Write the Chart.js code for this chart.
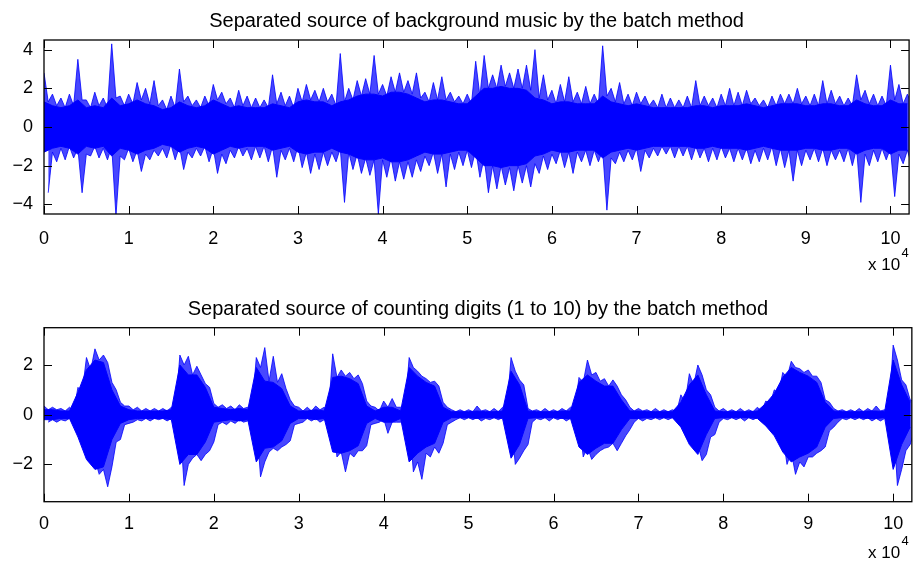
<!DOCTYPE html>
<html>
<head>
<meta charset="utf-8">
<script src="https://cdn.jsdelivr.net/npm/chart.js@4.4.0/dist/chart.umd.min.js"></script>
<style>
  body { margin: 0; background: #fff; }
  canvas { position: absolute; left: 0; }
  #musicChart { top: 0; }
  #speechChart { top: 280px; }
</style>
</head>
<body>
<canvas id="musicChart" width="915" height="280"></canvas>
<canvas id="speechChart" width="915" height="281"></canvas>
<script>
// envelope values sampled every 0.1 (x 10^4 samples), from 0 to 10.2
const binStep = 0.1;
const xMax = 10.22;
const xTicks = [0, 1, 2, 3, 4, 5, 6, 7, 8, 9, 10];
const musicYTicks = [-4, -2, 0, 2, 4];
const speechYTicks = [-2, 0, 2];

// background music: positive peaks, negative peaks, dense core amplitude
const musicHi = [
  2.8, 1.7, 1.5, 1.7, 3.5, 1.4, 1.8, 1.5, 4.3, 1.6,
  1.7, 2.3, 2.0, 2.4, 1.4, 1.6, 3.0, 1.6, 1.4, 1.6,
  2.2, 1.8, 1.5, 1.9, 1.6, 1.5, 1.4, 2.7, 1.8, 1.6,
  2.0, 2.2, 1.9, 2.0, 1.7, 3.8, 2.0, 2.4, 2.5, 3.7,
  2.2, 2.6, 2.8, 2.4, 2.8, 1.8, 2.3, 2.6, 1.8, 1.6,
  1.7, 3.4, 3.7, 2.7, 3.2, 2.8, 3.0, 3.2, 4.0, 2.7,
  1.9, 2.2, 2.6, 1.8, 2.1, 1.7, 4.2, 2.0, 2.3, 1.7,
  1.8, 1.6, 1.4, 1.7, 1.5, 1.4, 1.6, 2.4, 1.6, 1.5,
  1.7, 2.0, 1.8, 1.9, 1.5, 1.4, 1.6, 1.7, 1.7, 2.0,
  1.6, 1.7, 2.4, 1.9, 1.6, 1.5, 2.7, 1.9, 1.7, 1.6,
  3.2, 2.2, 1.7
];
const musicLo = [
  -3.4, -1.8, -1.7, -1.6, -3.4, -1.5, -1.6, -1.7, -4.6, -1.7,
  -1.8, -2.3, -1.7, -1.5, -1.6, -1.7, -2.2, -1.6, -1.5, -1.8,
  -2.4, -1.9, -1.6, -1.5, -1.7, -1.6, -1.8, -2.6, -1.7, -1.8,
  -2.1, -2.4, -2.2, -2.0, -1.8, -3.9, -2.2, -2.4, -2.5, -4.5,
  -2.6, -2.8, -2.7, -2.6, -2.3, -2.0, -2.4, -3.1, -2.2, -2.0,
  -2.1, -2.6, -3.4, -3.2, -3.0, -3.3, -2.9, -3.1, -2.4, -2.2,
  -1.9, -2.1, -2.4, -1.8, -2.0, -1.8, -4.3, -1.9, -1.8, -1.7,
  -2.3, -1.6, -1.5, -1.4, -1.6, -1.5, -1.7, -1.6, -1.8, -1.7,
  -1.6, -1.8, -1.7, -1.9, -1.8, -1.7, -2.0, -2.1, -2.8, -2.0,
  -1.7, -1.8, -2.0, -1.7, -1.8, -2.0, -3.9, -2.0, -1.8, -1.7,
  -3.6, -1.9, -2.0
];
const musicCore = [
  1.3, 1.1, 1.0, 1.1, 1.4, 1.0, 1.1, 1.0, 1.5, 1.1,
  1.2, 1.4, 1.2, 1.1, 0.9, 1.0, 1.3, 1.1, 1.0, 1.1,
  1.4, 1.2, 1.0, 1.1, 1.0, 1.0, 1.0, 1.2, 1.1, 1.0,
  1.3, 1.4, 1.3, 1.3, 1.1, 1.3, 1.4, 1.6, 1.7, 1.7,
  1.6, 1.8, 1.8, 1.7, 1.5, 1.3, 1.4, 1.4, 1.3, 1.2,
  1.2, 1.6, 2.0, 2.0, 2.1, 2.0, 2.0, 1.9, 1.5, 1.4,
  1.2, 1.3, 1.3, 1.2, 1.2, 1.2, 1.6, 1.3, 1.2, 1.1,
  1.2, 1.1, 1.0, 1.0, 1.0, 1.0, 1.0, 1.1, 1.1, 1.0,
  1.1, 1.1, 1.1, 1.2, 1.1, 1.0, 1.1, 1.2, 1.2, 1.2,
  1.1, 1.1, 1.2, 1.2, 1.1, 1.1, 1.4, 1.2, 1.1, 1.1,
  1.4, 1.2, 1.2
];

// counting digits: ten spoken words over a low noise floor
const speechHi = [
  0.35, 0.3, 0.25, 0.3, 1.1, 2.3, 2.65, 2.4, 1.3, 0.5,
  0.35, 0.3, 0.25, 0.25, 0.25, 0.3, 2.4, 2.35, 1.95, 1.25,
  0.45, 0.4, 0.35, 0.4, 0.3, 2.3, 2.7, 2.35, 1.65, 0.6,
  0.3, 0.3, 0.35, 0.3, 2.45, 1.8, 1.7, 1.6, 0.55, 0.3,
  0.55, 0.65, 0.3, 2.3, 1.75, 1.45, 1.35, 0.5, 0.2, 0.2,
  0.2, 0.35, 0.2, 0.25, 0.3, 2.3, 1.4, 0.25, 0.2, 0.25,
  0.2, 0.25, 0.3, 1.5, 2.2, 1.7, 1.45, 1.4, 0.8, 0.3,
  0.25, 0.2, 0.25, 0.2, 0.2, 0.8, 1.65, 2.0, 1.0, 0.3,
  0.25, 0.2, 0.25, 0.2, 0.3, 0.55, 1.0, 1.7, 2.15, 1.85,
  1.8, 1.55, 0.6, 0.25, 0.2, 0.2, 0.25, 0.25, 0.35, 0.2,
  2.8, 1.4, 0.6
];
const speechLo = [
  -0.3, -0.3, -0.25, -0.25, -1.0, -1.9, -2.4, -2.9, -1.1, -0.4,
  -0.3, -0.25, -0.25, -0.2, -0.25, -0.3, -2.85, -1.75, -1.85, -1.45,
  -0.4, -0.4, -0.35, -0.3, -0.35, -2.5, -1.5, -1.45, -1.2, -0.4,
  -0.3, -0.25, -0.3, -0.25, -1.7, -2.3, -1.7, -1.45, -0.4, -0.3,
  -0.75, -0.3, -0.3, -2.3, -2.6, -1.7, -1.55, -0.4, -0.2, -0.2,
  -0.2, -0.25, -0.2, -0.2, -0.3, -2.0, -1.45, -0.3, -0.2, -0.25,
  -0.2, -0.25, -0.25, -1.7, -1.8, -1.45, -1.3, -1.45, -0.85, -0.3,
  -0.25, -0.2, -0.2, -0.2, -0.2, -0.5, -1.3, -1.85, -0.9, -0.3,
  -0.2, -0.2, -0.25, -0.2, -0.25, -0.6, -1.05, -2.0, -2.4, -2.1,
  -1.7, -1.45, -0.65, -0.3, -0.2, -0.2, -0.2, -0.25, -0.25, -0.2,
  -2.85, -1.45, -0.65
];
const speechCore = [
  0.2, 0.2, 0.15, 0.15, 0.9, 1.8, 2.2, 2.1, 1.0, 0.35,
  0.2, 0.15, 0.15, 0.15, 0.15, 0.2, 2.0, 1.6, 1.6, 1.1,
  0.3, 0.25, 0.2, 0.25, 0.2, 1.9, 1.35, 1.3, 1.05, 0.35,
  0.15, 0.15, 0.2, 0.15, 1.5, 1.55, 1.45, 1.25, 0.35, 0.15,
  0.3, 0.3, 0.15, 1.9, 1.55, 1.3, 1.15, 0.3, 0.12, 0.12,
  0.12, 0.15, 0.12, 0.12, 0.15, 1.75, 1.2, 0.15, 0.12, 0.12,
  0.12, 0.15, 0.15, 1.3, 1.6, 1.35, 1.15, 1.15, 0.6, 0.15,
  0.15, 0.12, 0.12, 0.12, 0.12, 0.5, 1.2, 1.6, 0.8, 0.15,
  0.12, 0.12, 0.12, 0.12, 0.15, 0.45, 0.85, 1.5, 1.9, 1.7,
  1.55, 1.3, 0.5, 0.15, 0.12, 0.12, 0.12, 0.15, 0.15, 0.12,
  2.2, 1.2, 0.5
];

const BLUE = '#0000ff';
const FONT = '"Liberation Sans", Arial, Helvetica, sans-serif';
Chart.defaults.font.family = FONT;
Chart.defaults.color = '#000';

// sawtooth outline: a peak at each bin, back to the core level in between
function peakEdge(peaks, core, sign, shift) {
  const pts = [];
  peaks.forEach((p, i) => {
    const x0 = i * binStep + shift;
    pts.push({ x: x0, y: p });
    pts.push({ x: x0 + binStep / 2, y: sign * core[i] });
  });
  return pts;
}

function coreEdge(core, sign) {
  return core.map((c, i) => ({ x: i * binStep, y: sign * c }));
}

const minus = v => (v < 0 ? '\u2212' + Math.abs(v) : String(v));

// MATLAB style box: border, inward ticks on all sides, title and x 10^4
const matlabAxes = {
  id: 'matlabAxes',
  afterDraw(chart, args, opts) {
    const { ctx, chartArea: a, scales: { x, y } } = chart;
    const tick = 8;
    ctx.save();
    ctx.strokeStyle = '#000';
    ctx.lineWidth = 1;
    ctx.beginPath();
    xTicks.forEach(v => {
      const px = Math.round(x.getPixelForValue(v)) + 0.5;
      ctx.moveTo(px, a.bottom);
      ctx.lineTo(px, a.bottom - tick);
      ctx.moveTo(px, a.top);
      ctx.lineTo(px, a.top + tick);
    });
    opts.yTicks.forEach(v => {
      const py = Math.round(y.getPixelForValue(v)) + 0.5;
      ctx.moveTo(a.left, py);
      ctx.lineTo(a.left + tick, py);
      ctx.moveTo(a.right, py);
      ctx.lineTo(a.right - tick, py);
    });
    ctx.stroke();
    ctx.lineWidth = 1.3;
    ctx.strokeRect(a.left, a.top, a.right - a.left, a.bottom - a.top);

    ctx.fillStyle = '#000';
    ctx.textBaseline = 'alphabetic';
    ctx.textAlign = 'center';
    ctx.font = '20px ' + FONT;
    ctx.fillText(opts.title, (a.left + a.right) / 2, opts.titleBase);

    ctx.textAlign = 'left';
    ctx.font = '17px ' + FONT;
    ctx.fillText('x 10', 868, opts.expBase);
    ctx.font = '13px ' + FONT;
    ctx.fillText('4', 901.5, opts.expBase - 13.5);
    ctx.restore();
  }
};

function makeChart(id, cfg) {
  const peakStyle = {
    borderColor: 'rgba(0, 0, 255, 0.8)',
    borderWidth: 1,
    backgroundColor: 'rgba(0, 0, 255, 0.72)',
    fill: 'origin'
  };
  return new Chart(document.getElementById(id), {
    type: 'line',
    data: {
      datasets: [
        {
          data: coreEdge(cfg.core, 1),
          borderColor: BLUE,
          borderWidth: 1,
          backgroundColor: BLUE,
          fill: '+1'
        },
        {
          data: coreEdge(cfg.core, -1),
          borderColor: BLUE,
          borderWidth: 1,
          fill: false
        },
        Object.assign({ data: peakEdge(cfg.hi, cfg.core, 1, 0) }, peakStyle),
        Object.assign({ data: peakEdge(cfg.lo, cfg.core, -1, binStep / 2) }, peakStyle)
      ]
    },
    options: {
      responsive: false,
      animation: false,
      devicePixelRatio: 1,
      layout: { padding: { top: cfg.padTop, right: 1 } },
      elements: { point: { radius: 0 }, line: { tension: 0 } },
      plugins: {
        legend: { display: false },
        tooltip: { enabled: false },
        matlabAxes: {
          yTicks: cfg.yTicks,
          title: cfg.title,
          titleBase: cfg.titleBase,
          expBase: cfg.expBase
        }
      },
      scales: {
        x: {
          type: 'linear',
          min: 0,
          max: xMax,
          grid: { display: false, drawTicks: false },
          border: { display: false },
          afterBuildTicks: s => { s.ticks = xTicks.map(v => ({ value: v })); },
          afterFit: s => { s.height = cfg.xHeight; },
          ticks: { padding: cfg.xPad, font: { size: 18 }, maxRotation: 0, autoSkip: false }
        },
        y: {
          min: -cfg.yMax,
          max: cfg.yMax,
          grid: { display: false, drawTicks: false },
          border: { display: false },
          afterBuildTicks: s => { s.ticks = cfg.yTicks.map(v => ({ value: v })); },
          afterFit: s => { s.width = 44; },
          ticks: { padding: 11, font: { size: 18 }, callback: v => minus(v) }
        }
      }
    },
    plugins: [matlabAxes]
  });
}

makeChart('musicChart', {
  title: 'Separated source of background music by the batch method',
  hi: musicHi, lo: musicLo, core: musicCore,
  yTicks: musicYTicks, yMax: 4.5,
  padTop: 40, titleBase: 26.5, xHeight: 66, xPad: 14.5, expBase: 270
});

makeChart('speechChart', {
  title: 'Separated source of counting digits (1 to 10) by the batch method',
  hi: speechHi, lo: speechLo, core: speechCore,
  yTicks: speechYTicks, yMax: 3.5,
  padTop: 47.7, titleBase: 34.7, xHeight: 59.3, xPad: 11.8, expBase: 278
});
</script>
</body>
</html>
